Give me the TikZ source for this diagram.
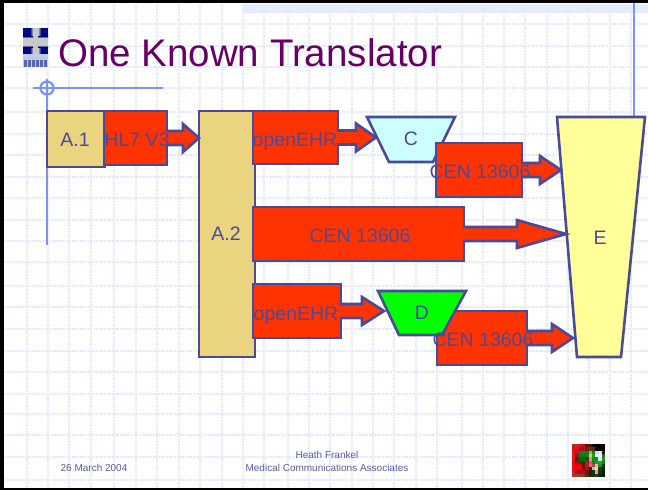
\documentclass[tikz,border=0pt]{standalone}
\usepackage{fontspec}
\setmainfont{Liberation Sans}
\usetikzlibrary{calc}
\definecolor{ink}{HTML}{4A4A9A}
\definecolor{redf}{HTML}{FF3300}
\definecolor{sand}{HTML}{EAD47F}
\definecolor{gridc}{HTML}{E4EBFC}
\definecolor{guide}{HTML}{7B93F5}
\definecolor{titlec}{HTML}{660066}
\definecolor{foot}{HTML}{5A5AA4}
\definecolor{logoblue}{HTML}{000A80}
\definecolor{logoedge}{HTML}{5A68B0}
\definecolor{logogray}{HTML}{C8C8C8}
\definecolor{logostrip}{HTML}{C4CAE6}
\definecolor{paleyellow}{HTML}{FFFF99}
\definecolor{palecyan}{HTML}{CCFFFF}
\tikzset{
  x=1pt,y=-1pt,
  gridline/.style={gridc,line width=1.7pt,dash pattern=on 2pt off 0.7pt},
  guideline/.style={guide,line width=2.3pt},
  box/.style={draw=ink,line width=2.6pt,fill=redf,rectangle,inner sep=0,outer sep=0,anchor=north west},
  sandbox/.style={box,fill=sand},
  trap/.style={draw=ink,line width=2.6pt,line join=miter},
  lbl/.style={text=ink,font=\fontsize{19.5}{20}\selectfont,inner sep=0,anchor=base},
  foottext/.style={text=foot,font=\fontsize{10}{12}\selectfont,inner sep=0,anchor=base},
  arr/.style={draw=ink,line width=2.6pt,fill=redf,line join=miter},
}
% \blockarr{source node}{tip coordinate}{head length}
\newcommand\blockarr[3]{%
  \draw[arr] let \p1=(#1.east),\p2=(#2) in
    (\x1-1.2pt,\y1+7pt) -- (\x2-#3pt,\y1+7pt) -- (\x2-#3pt,\y1+14pt) -- (\x2,\y1)
    -- (\x2-#3pt,\y1-14pt) -- (\x2-#3pt,\y1-7pt) -- (\x1-1.2pt,\y1-7pt);
}
\begin{document}
\begin{tikzpicture}
\useasboundingbox (0,0) rectangle (648,490);
\fill[white] (0,0) rectangle (648,490);
% background grid
\foreach \gx in {27,48,69,91,114,136,157,179,200,222,243,264,288,309,330,352,373,394,416,437,462,483,504,525,547,568,589,610,631}
  \draw[gridline] (\gx,4) -- (\gx,488);
\foreach \gy in {24,46,67,88,112,134,155,177,198,220,241,262,286,307,329,351,372,394,414,435,457,480}
  \draw[gridline] (4,\gy) -- (648,\gy);
\fill[gridc] (242,4) rectangle (648,13);
% frame
\fill[black] (0,0) rectangle (648,3);
\fill[black] (0,0) rectangle (4,490);
\fill[black] (0,488) rectangle (648,490);
% guide lines
\draw[guideline] (33,88) -- (163,88);
\draw[guideline] (47,79) -- (47,245);
\draw[guideline] (47,88) circle (6.5);
\draw[guideline] (634,3) -- (634,117);
% logo
\fill[logogray] (23,28) rectangle (48,54);
\fill[logoblue] (23,28) rectangle (30,36);
\fill[logoblue] (41,28) rectangle (48,36);
\fill[logoblue] (23,47) rectangle (30,54);
\fill[logoblue] (41,47) rectangle (48,54);
\shade[left color=logoblue,right color=logogray] (30,28) rectangle (33,36);
\shade[left color=logogray,right color=logoblue] (38,28) rectangle (41,36);
\shade[left color=logoblue,right color=logogray] (30,47) rectangle (33,54);
\shade[left color=logogray,right color=logoblue] (38,47) rectangle (41,54);
\shade[top color=logoblue,bottom color=logogray] (23,36) rectangle (33,38);
\shade[top color=logoblue,bottom color=logogray] (38,36) rectangle (48,38);
\shade[top color=logogray,bottom color=logoblue] (23,45) rectangle (33,47);
\shade[top color=logogray,bottom color=logoblue] (38,45) rectangle (48,47);
\fill[logostrip] (23,54) rectangle (48,67);
\foreach \lx in {24,28,32,36,40,44}
  \fill[logoedge] (\lx,59.5) rectangle ++(2.6,7);
% title
\node[text=titlec,font=\fontsize{38.5}{40}\selectfont,inner sep=0,anchor=base west] (title) at (58,66) {One Known Translator};
% shapes and arrows
\node[sandbox,minimum width=58pt,minimum height=56pt] (A1) at (47,111) {};
\node[box,minimum width=63pt,minimum height=54pt] (HL7) at (104,111) {};
\node[sandbox,minimum width=56pt,minimum height=246pt] (A2) at (199,111) {};
\blockarr{HL7}{A2.west}{16}
\node[box,minimum width=85pt,minimum height=53pt] (oe1) at (253,111) {};
\draw[trap,fill=palecyan] (367,117) -- (455,117) -- (433,162) -- (389,162) -- cycle;
\coordinate (C) at (376,138);
\blockarr{oe1}{C}{20}
\node[box,minimum width=86pt,minimum height=54pt] (cen1) at (436,143) {};
\node[box,minimum width=211pt,minimum height=54pt] (cen0) at (253,207) {};
\node[box,minimum width=88pt,minimum height=54pt] (oe2) at (253,284) {};
\node[box,minimum width=90pt,minimum height=54pt] (cen2) at (437,311) {};
\draw[trap,fill=green] (378,291) -- (466,291) -- (442,335) -- (399,335) -- cycle;
\coordinate (D) at (384,311);
\blockarr{oe2}{D}{22}
\draw[trap,fill=paleyellow] (557,117) -- (645,117) -- (621,357) -- (577,357) -- cycle;
\coordinate (tipa) at (561,170);
\coordinate (tipb) at (566,233);
\coordinate (tipc) at (573,338);
\blockarr{cen1}{tipa}{21}
\blockarr{cen0}{tipb}{49}
\blockarr{cen2}{tipc}{21}
% labels
\node[lbl] (lA1) at (75,146) {A.1};
\node[lbl] (lHL7) at (137,146) {HL7 V3};
\node[lbl] (lA2) at (226,240) {A.2};
\node[lbl] (loe1) at (295,146) {openEHR};
\node[lbl] (lC) at (411,145) {C};
\node[lbl] (lcen1) at (480,178) {CEN 13606};
\node[lbl] (lcen0) at (360,242) {CEN 13606};
\node[lbl] (lE) at (600,244) {E};
\node[lbl] (loe2) at (296,320) {openEHR};
\node[lbl] (lD) at (422,319) {D};
\node[lbl] (lcen2) at (483,346) {CEN 13606};
% footer
\node[foottext] (fdate) at (94,471) {26 March 2004};
\node[foottext] (fname) at (327,458) {Heath Frankel};
\node[foottext] (forg) at (327,471) {Medical Communications Associates};
% icon
\def\iconrows{%
{C02020,D02028,C01818,C01010,601010,401818,200808,000000,000000,000000},%
{E01010,E01020,B01010,A01818,801818,305010,602828,101010,000000,000000},%
{E01010,C01818,307018,109010,108010,D09090,108810,D0E0D0,E0E8E0,202020},%
{E02020,802020,108010,008000,009010,F0B0B0,20A020,F0F8F0,F0F0F0,306030},%
{E01818,502010,007000,007000,503010,E09090,109010,109030,E0F0E0,209020},%
{E01010,A01010,105010,004000,803020,D06060,208010,20A020,20A030,108010},%
{E01010,F00000,E00010,800808,B02020,D07070,A05050,F0B0B0,209020,104010},%
{E01010,FF0010,F00010,900808,A01818,501010,E0B0B0,F0D0D0,104010,003000},%
{D02020,B01010,A01010,A01818,701010,401010,103010,E0A0A0,103810,002000},%
{B03018,A04020,A04020,904010,503010,103010,103010,204020,102010,001800}}
\foreach \rowc [count=\ri from 0] in \iconrows {
  \foreach \cellc [count=\ci from 0] in \rowc {
    \definecolor{cellcolor}{HTML}{\cellc}
    \fill[cellcolor] ({572+3.3*\ci},{444+3.3*\ri}) rectangle ++(3.35,3.35);
  }
}
\end{tikzpicture}
\end{document}
